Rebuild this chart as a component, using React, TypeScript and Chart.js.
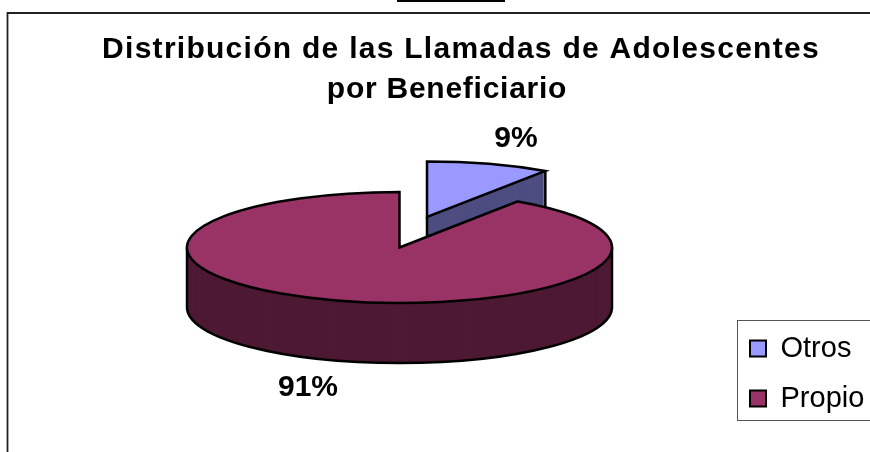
import React, { useEffect, useRef } from "react";
import { Chart, registerables } from "chart.js";

Chart.register(...registerables);

const categories = ["Otros", "Propio"];
const values = [9.4, 90.6];
const topColors = ["#9999ff", "#993366"];
const sideColors = ["#4d4d80", "#4d1933"];
const titleLines = ["Distribución de las Llamadas de Adolescentes", "por Beneficiario"];
const FONT = "'Liberation Sans', Arial, sans-serif";

// Layout of the tilted pie on the page
const RX = 212.5;
const RY = 55.5;
const DEPTH = 60;
const centers = [{ x: 427, y: 217 }, { x: 399.5, y: 247.5 }];
const pctLabels = [{ x: 516, y: 139 }, { x: 308, y: 388 }];

const spaced = (box: any, ctx: any, spacing: string) => {
  if (box.__spaced) return;
  box.__spaced = true;
  const orig = box.draw;
  box.draw = function (...args: any[]) {
    ctx.save();
    ctx.letterSpacing = spacing;
    orig.apply(box, args);
    ctx.restore();
  };
};

const pie3d = {
  id: "pie3d",
  beforeDatasetsDraw(chart: any) {
    const ctx = chart.ctx;
    const arcs = chart.getDatasetMeta(0).data;
    const paint = (i: number, dy: number, color: string) => {
      const el = arcs[i];
      const saved = el.options;
      el.options = { ...saved, backgroundColor: color, borderWidth: 0 };
      ctx.save();
      ctx.translate(centers[i].x, centers[i].y + dy);
      ctx.scale(RX / el.outerRadius, RY / el.outerRadius);
      ctx.translate(-el.x, -el.y);
      el.draw(ctx);
      ctx.restore();
      el.options = saved;
    };
    const outline = (i: number) => {
      const el = arcs[i];
      const c = centers[i];
      ctx.beginPath();
      ctx.moveTo(c.x, c.y);
      ctx.ellipse(c.x, c.y, RX, RY, 0, el.startAngle, el.endAngle);
      ctx.closePath();
      ctx.stroke();
    };
    ctx.save();
    ctx.strokeStyle = "#000";
    ctx.lineWidth = 2.5;
    ctx.lineJoin = "miter";
    // Otros: side, then top
    for (let d = DEPTH; d > 0; d--) paint(0, d, sideColors[0]);
    const e0 = arcs[0];
    const c0 = centers[0];
    const rx0 = c0.x + RX * Math.cos(e0.endAngle);
    const ry0 = c0.y + RY * Math.sin(e0.endAngle);
    ctx.beginPath();
    ctx.moveTo(c0.x, c0.y);
    ctx.lineTo(c0.x, c0.y + DEPTH);
    ctx.moveTo(rx0, ry0);
    ctx.lineTo(rx0, ry0 + DEPTH);
    ctx.stroke();
    paint(0, 0, topColors[0]);
    outline(0);
    // Propio: side, then top
    for (let d = DEPTH; d > 0; d--) paint(1, d, sideColors[1]);
    const c1 = centers[1];
    ctx.beginPath();
    ctx.moveTo(c1.x - RX, c1.y);
    ctx.lineTo(c1.x - RX, c1.y + DEPTH);
    ctx.ellipse(c1.x, c1.y + DEPTH, RX, RY, 0, Math.PI, 0, true);
    ctx.lineTo(c1.x + RX, c1.y);
    ctx.stroke();
    paint(1, 0, topColors[1]);
    outline(1);
    ctx.restore();
    return false;
  },
  afterDraw(chart: any) {
    const ctx = chart.ctx;
    ctx.save();
    // frame, legend box and the stray line above the chart
    ctx.strokeStyle = "#222";
    ctx.lineWidth = 1.8;
    ctx.beginPath();
    ctx.moveTo(7.5, 452);
    ctx.lineTo(7.5, 13);
    ctx.lineTo(870, 13);
    ctx.stroke();
    ctx.strokeStyle = "#555";
    ctx.lineWidth = 1;
    ctx.strokeRect(737.5, 320.5, 140, 100);
    ctx.strokeStyle = "#000";
    ctx.lineWidth = 2;
    ctx.beginPath();
    ctx.moveTo(397, 1);
    ctx.lineTo(505, 1);
    ctx.stroke();
    // percentage labels
    ctx.fillStyle = "#000";
    ctx.font = `bold 30px ${FONT}`;
    ctx.textAlign = "center";
    ctx.textBaseline = "middle";
    const total = values.reduce((a, b) => a + b, 0);
    values.forEach((v, i) => {
      ctx.fillText(`${Math.round((v / total) * 100)}%`, pctLabels[i].x, pctLabels[i].y);
    });
    ctx.restore();
  },
  afterLayout(chart: any) {
    const title = chart.titleBlock;
    const sub = chart.boxes.find((b: any) => b !== title && title && b.constructor === title.constructor);
    if (title) {
      title.left = 52;
      title.right = 870;
      title.width = 818;
      title.top = 49.5 - title.height / 2;
      spaced(title, chart.ctx, "1.27px");
    }
    if (sub) {
      sub.left = 24;
      sub.right = 870;
      sub.width = 846;
      sub.top = 89.5 - sub.height / 2;
      spaced(sub, chart.ctx, "0.75px");
    }
    const lg = chart.legend;
    lg.left = 750 - 21;
    lg.right = 870;
    lg.width = 141;
    lg.top = 313;
    lg.bottom = 452;
    lg.height = 139;
  },
};

export default function App() {
  const ref = useRef<HTMLCanvasElement>(null);
  useEffect(() => {
    document.body.style.margin = "0";
    const chart = new Chart(ref.current as HTMLCanvasElement, {
      type: "pie",
      data: {
        labels: categories,
        datasets: [
          {
            data: values,
            backgroundColor: topColors,
            borderColor: "#000",
            borderWidth: 2,
          },
        ],
      },
      options: {
        responsive: false,
        animation: false,
        rotation: 0,
        plugins: {
          title: {
            display: true,
            text: titleLines[0],
            color: "#000",
            padding: 0,
            font: { family: FONT, size: 30, weight: "bold", lineHeight: 1.2 },
          },
          subtitle: {
            display: true,
            text: titleLines[1],
            color: "#000",
            padding: 0,
            font: { family: FONT, size: 30, weight: "bold", lineHeight: 1.2 },
          },
          legend: {
            position: "right",
            align: "start",
            labels: {
              color: "#000",
              boxWidth: 16,
              boxHeight: 16,
              padding: 21,
              font: { family: FONT, size: 29 },
            },
          },
          tooltip: { enabled: false },
        },
      },
      plugins: [pie3d],
    } as any);
    return () => chart.destroy();
  }, []);
  return <canvas ref={ref} width={870} height={452} style={{ display: "block", background: "#fff" }} />;
}
